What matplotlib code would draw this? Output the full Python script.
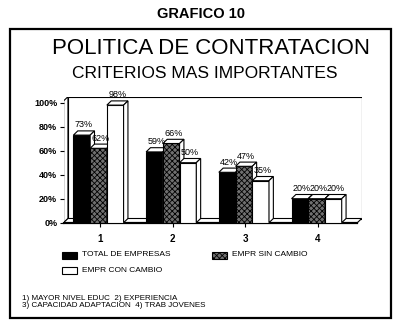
import matplotlib
matplotlib.use("Agg")
import matplotlib.pyplot as plt
from matplotlib.patches import Rectangle, Polygon

plt.rcParams['font.family'] = ['Liberation Sans', 'DejaVu Sans']
plt.rcParams['hatch.linewidth'] = 0.6

# data
groups = [1, 2, 3, 4]
group_labels = ['1', '2', '3', '4']
total = [73, 59, 42, 20]
sin_cambio = [62, 66, 47, 20]
con_cambio = [98, 50, 35, 20]
series_names = ['TOTAL DE EMPRESAS', 'EMPR SIN CAMBIO', 'EMPR CON CAMBIO']
yticks = [0, 20, 40, 60, 80, 100]
ytick_labels = ['0%', '20%', '40%', '60%', '80%', '100%']
notes = ['1) MAYOR NIVEL EDUC  2) EXPERIENCIA',
         '3) CAPACIDAD ADAPTACION  4) TRAB JOVENES']

W, H = 400, 333
fig = plt.figure(figsize=(W / 100, H / 100), dpi=100)

def fx(x):
    return x / W

def fy(y):
    return 1 - y / H

# axes placed in pixel terms
ax = fig.add_axes([fx(63.6), fy(222.7), (361.7 - 63.6) / W, 126 / H])
x0, x1, ytop = 0.5, 4.6, 105
ax.set_xlim(x0, x1)
ax.set_ylim(0, ytop)
for s in ax.spines.values():
    s.set_visible(False)

dx, dy = 0.06, 3.5
lw = 0.8

# 3d box: left wall, floor, back wall
ax.add_patch(Polygon([(x0, 0), (x0 + dx, dy), (x0 + dx, ytop), (x0, ytop - dy)],
                     closed=True, fc='white', ec='black', lw=lw, zorder=1))
ax.add_patch(Polygon([(x0, 0), (x1 - dx, 0), (x1, dy), (x0 + dx, dy)],
                     closed=True, fc='white', ec='black', lw=lw, zorder=1))
ax.add_patch(Rectangle((x0 + dx, dy), x1 - x0 - dx, ytop - dy,
                       fc='white', ec='black', lw=lw, zorder=0.5))
ax.plot([x0, x1 - dx], [0, 0], color='black', lw=1.6, zorder=1.5, clip_on=False)

width = 0.23
offsets = [-0.25, -0.02, 0.21]
styles = [dict(fc='black', hatch=None),
          dict(fc='#707070', hatch='xxxxxx'),
          dict(fc='white', hatch=None)]
series = [total, sin_cambio, con_cambio]

z = 2
for gi, g in enumerate(groups):
    for si in range(3):
        v = series[si][gi]
        st = styles[si]
        left = g + offsets[si] - width / 2
        right = left + width
        ax.bar(left, v, width=width, align='edge', color=st['fc'], hatch=st['hatch'],
               edgecolor='black', linewidth=lw, zorder=z)
        ax.add_patch(Polygon([(left, v), (left + dx, v + dy), (right + dx, v + dy), (right, v)],
                             closed=True, fc='white', ec='black', lw=lw, zorder=z + 0.1))
        ax.add_patch(Polygon([(right, 0), (right + dx, dy), (right + dx, v + dy), (right, v)],
                             closed=True, fc='white', ec='black', lw=lw, zorder=z + 0.1))
        ax.text(left + width / 2 + dx / 2, v + dy + 1.2, '%d%%' % v, ha='center', va='bottom',
                fontsize=6.5, zorder=10)
        z += 1

ax.set_yticks(yticks)
ax.set_yticklabels(ytick_labels, fontsize=6.5, fontweight='bold')
ax.set_xticks(groups)
ax.set_xticklabels(group_labels, fontsize=7, fontweight='bold')
ax.tick_params(axis='y', length=3, width=0.8, pad=1.5)
ax.tick_params(axis='x', length=3, width=0.8, pad=5)

# titles
fig.text(fx(201), fy(14), 'GRAFICO 10', ha='center', va='center', fontsize=10.5, fontweight='bold')
fig.text(fx(211), fy(49), 'POLITICA DE CONTRATACION', ha='center', va='center', fontsize=16)
fig.text(fx(205), fy(73), 'CRITERIOS MAS IMPORTANTES', ha='center', va='center', fontsize=12.5)

# outer frame
fig.add_artist(Rectangle((fx(10), fy(318)), 381 / W, 289 / H, transform=fig.transFigure,
                         fill=False, ec='black', lw=1.6))

# legend
leg = [(62, 255, 0), (212, 255, 1), (62, 270, 2)]
for lx, ly, si in leg:
    st = styles[si]
    fig.add_artist(Rectangle((fx(lx), fy(ly + 3.5)), 15 / W, 7 / H, transform=fig.transFigure,
                             fc=st['fc'], hatch=st['hatch'], ec='black', lw=0.8))
    fig.text(fx(lx + 20), fy(ly), series_names[si], ha='left', va='center', fontsize=6)

# footnotes
fig.text(fx(22), fy(299), notes[0], ha='left', va='center', fontsize=5.8)
fig.text(fx(22), fy(305.5), notes[1], ha='left', va='center', fontsize=5.8)

fig.savefig('out.png', dpi=100)
